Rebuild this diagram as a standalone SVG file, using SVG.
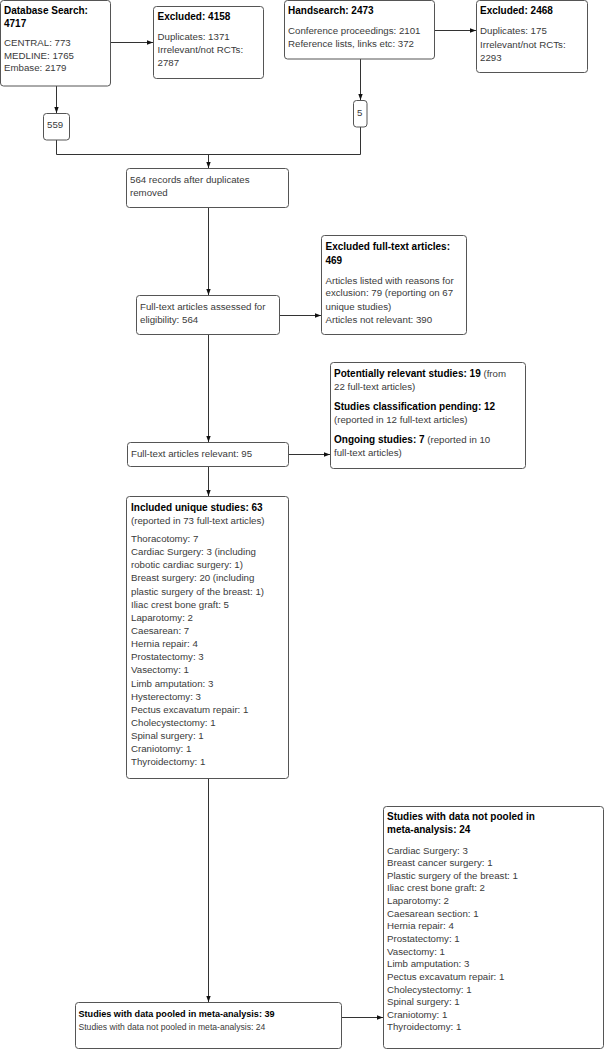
<svg xmlns="http://www.w3.org/2000/svg" width="604" height="1050" viewBox="0 0 604 1050">
<style>
.box{fill:#fff;stroke:#555;stroke-width:1}
.t{font-family:"Liberation Sans",Arial,sans-serif;font-size:9.7px;fill:#3a3a3a}
.b{font-family:"Liberation Sans",Arial,sans-serif;font-size:10px;font-weight:bold;fill:#000}
.c{fill:none;stroke:#333;stroke-width:1}
</style>
<defs>
<marker id="ah" viewBox="0 0 6 6" refX="6" refY="3" markerWidth="6" markerHeight="6" orient="auto" markerUnits="userSpaceOnUse">
<path d="M0,0.8 L6,3 L0,5.2 Z" fill="#111"/>
</marker>
</defs>
<rect width="604" height="1050" fill="#fff"/>
<g id="connectors">
<path class="c" d="M111,42.5 H153" marker-end="url(#ah)"/>
<path class="c" d="M56.5,86 V113" marker-end="url(#ah)"/>
<path class="c" d="M434.5,30.5 H476" marker-end="url(#ah)"/>
<path class="c" d="M360.5,59 V100" marker-end="url(#ah)"/>
<path class="c" d="M56.5,140 V154.5 H360.5 V127"/>
<path class="c" d="M208.5,154.5 V168" marker-end="url(#ah)"/>
<path class="c" d="M208.5,208 V295" marker-end="url(#ah)"/>
<path class="c" d="M280,315.5 H321" marker-end="url(#ah)"/>
<path class="c" d="M208.5,334.5 V442" marker-end="url(#ah)"/>
<path class="c" d="M288.5,454.5 H330" marker-end="url(#ah)"/>
<path class="c" d="M208.5,466.5 V496" marker-end="url(#ah)"/>
<path class="c" d="M208.5,778.5 V1002" marker-end="url(#ah)"/>
<path class="c" d="M341.5,1017.5 H383" marker-end="url(#ah)"/>
</g>
<g id="database">
<rect class="box" x="0.5" y="0.5" width="110" height="85.5" rx="3"/>
<text class="b" x="4" y="14">Database Search:</text>
<text class="b" x="4" y="27">4717</text>
<text class="t" x="4" y="46">CENTRAL: 773</text>
<text class="t" x="4" y="58.5">MEDLINE: 1765</text>
<text class="t" x="4" y="71">Embase: 2179</text>
</g>
<g id="excluded1">
<rect class="box" x="153.5" y="6.5" width="110" height="72" rx="3"/>
<text class="b" x="157.5" y="20">Excluded: 4158</text>
<text class="t" x="157.5" y="39.5">Duplicates: 1371</text>
<text class="t" x="157.5" y="53">Irrelevant/not RCTs:</text>
<text class="t" x="157.5" y="66">2787</text>
</g>
<g id="handsearch">
<rect class="box" x="284.5" y="0.5" width="150" height="58.5" rx="3"/>
<text class="b" x="288" y="14">Handsearch: 2473</text>
<text class="t" x="288" y="34">Conference proceedings: 2101</text>
<text class="t" x="288" y="47">Reference lists, links etc: 372</text>
</g>
<g id="excluded2">
<rect class="box" x="476.5" y="0.5" width="111" height="72" rx="3"/>
<text class="b" x="480" y="14">Excluded: 2468</text>
<text class="t" x="480" y="34">Duplicates: 175</text>
<text class="t" x="480" y="47.5">Irrelevant/not RCTs:</text>
<text class="t" x="480" y="60.5">2293</text>
</g>
<g id="n559">
<rect class="box" x="43.5" y="113.5" width="26" height="26.5" rx="3"/>
<text class="t" x="47" y="128">559</text>
</g>
<g id="n5">
<rect class="box" x="353.5" y="100.5" width="13.5" height="26.5" rx="3"/>
<text class="t" x="357" y="115.5">5</text>
</g>
<g id="records564">
<rect class="box" x="126.5" y="168.5" width="162" height="39" rx="3"/>
<text class="t" x="130" y="183">564 records after duplicates</text>
<text class="t" x="130" y="195.5">removed</text>
</g>
<g id="fulltext">
<rect class="box" x="136.5" y="295.5" width="143" height="39" rx="3"/>
<text class="t" x="140" y="309.5">Full-text articles assessed for</text>
<text class="t" x="140" y="323">eligibility: 564</text>
</g>
<g id="excludedft">
<rect class="box" x="321.5" y="235.5" width="145" height="99" rx="3"/>
<text class="b" x="325.5" y="250">Excluded full-text articles:</text>
<text class="b" x="325.5" y="263.5">469</text>
<text class="t" x="325.5" y="283.5">Articles listed with reasons for</text>
<text class="t" x="325.5" y="296">exclusion: 79 (reporting on 67</text>
<text class="t" x="325.5" y="309.5">unique studies)</text>
<text class="t" x="325.5" y="323">Articles not relevant: 390</text>
</g>
<g id="relevant">
<rect class="box" x="127.5" y="442.5" width="161" height="24" rx="3"/>
<text class="t" x="131" y="457">Full-text articles relevant: 95</text>
</g>
<g id="potential">
<rect class="box" x="330.5" y="362.5" width="195" height="106" rx="3"/>
<text x="334" y="377"><tspan class="b">Potentially relevant studies: 19</tspan><tspan class="t"> (from</tspan></text>
<text class="t" x="334" y="389.5">22 full-text articles)</text>
<text class="b" x="334" y="409.5">Studies classification pending: 12</text>
<text class="t" x="334" y="423">(reported in 12 full-text articles)</text>
<text x="334" y="443"><tspan class="b">Ongoing studies: 7</tspan><tspan class="t"> (reported in 10</tspan></text>
<text class="t" x="334" y="456">full-text articles)</text>
</g>
<g id="included">
<rect class="box" x="126.5" y="496.5" width="162" height="282" rx="3"/>
<text class="b" x="131" y="511">Included unique studies: 63</text>
<text class="t" x="131" y="523.5">(reported in 73 full-text articles)</text>
<text class="t" x="131" y="542">Thoracotomy: 7</text>
<text class="t" x="131" y="555">Cardiac Surgery: 3 (including</text>
<text class="t" x="131" y="568">robotic cardiac surgery: 1)</text>
<text class="t" x="131" y="581">Breast surgery: 20 (including</text>
<text class="t" x="131" y="594.5">plastic surgery of the breast: 1)</text>
<text class="t" x="131" y="607.5">Iliac crest bone graft: 5</text>
<text class="t" x="131" y="620.5">Laparotomy: 2</text>
<text class="t" x="131" y="634">Caesarean: 7</text>
<text class="t" x="131" y="647">Hernia repair: 4</text>
<text class="t" x="131" y="660">Prostatectomy: 3</text>
<text class="t" x="131" y="673">Vasectomy: 1</text>
<text class="t" x="131" y="686.5">Limb amputation: 3</text>
<text class="t" x="131" y="699.5">Hysterectomy: 3</text>
<text class="t" x="131" y="712.5">Pectus excavatum repair: 1</text>
<text class="t" x="131" y="726">Cholecystectomy: 1</text>
<text class="t" x="131" y="739">Spinal surgery: 1</text>
<text class="t" x="131" y="752">Craniotomy: 1</text>
<text class="t" x="131" y="765">Thyroidectomy: 1</text>
</g>
<g id="pooled">
<rect class="box" x="75.5" y="1002.5" width="266" height="46" rx="3"/>
<text class="b" x="78.5" y="1017" style="font-size:9.1px">Studies with data pooled in meta-analysis: 39</text>
<text class="t" x="78.5" y="1030" style="font-size:8.6px">Studies with data not pooled in meta-analysis: 24</text>
</g>
<g id="notpooled">
<rect class="box" x="383.5" y="806.5" width="220" height="242" rx="3"/>
<text class="b" x="387" y="819.5">Studies with data not pooled in</text>
<text class="b" x="387" y="833">meta-analysis: 24</text>
<text class="t" x="387" y="853.5">Cardiac Surgery: 3</text>
<text class="t" x="387" y="866">Breast cancer surgery: 1</text>
<text class="t" x="387" y="878.5">Plastic surgery of the breast: 1</text>
<text class="t" x="387" y="891">Iliac crest bone graft: 2</text>
<text class="t" x="387" y="904">Laparotomy: 2</text>
<text class="t" x="387" y="916.5">Caesarean section: 1</text>
<text class="t" x="387" y="929">Hernia repair: 4</text>
<text class="t" x="387" y="942">Prostatectomy: 1</text>
<text class="t" x="387" y="954.5">Vasectomy: 1</text>
<text class="t" x="387" y="967">Limb amputation: 3</text>
<text class="t" x="387" y="980">Pectus excavatum repair: 1</text>
<text class="t" x="387" y="992.5">Cholecystectomy: 1</text>
<text class="t" x="387" y="1005">Spinal surgery: 1</text>
<text class="t" x="387" y="1017.5">Craniotomy: 1</text>
<text class="t" x="387" y="1030">Thyroidectomy: 1</text>
</g>
</svg>
